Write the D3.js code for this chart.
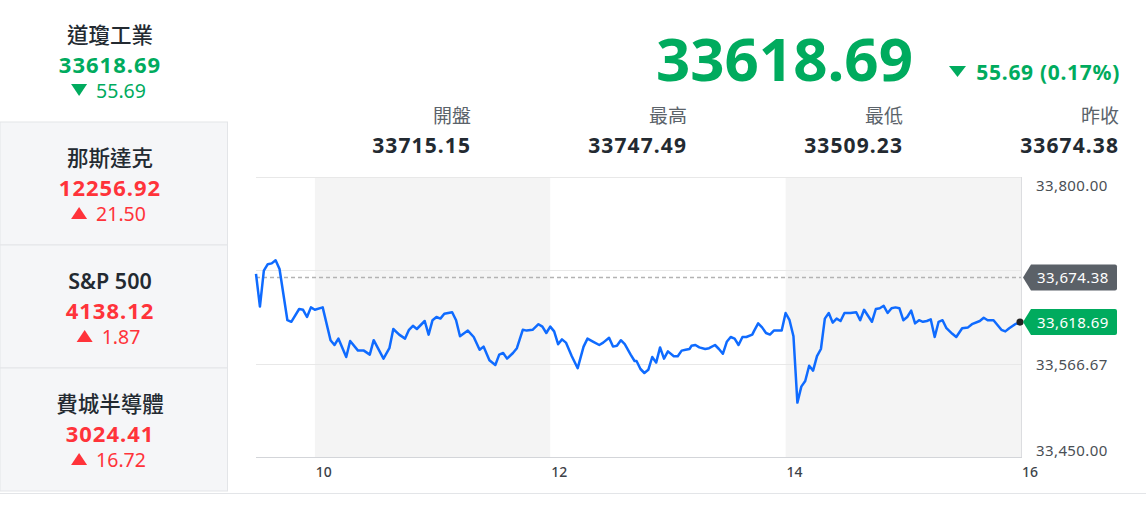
<!DOCTYPE html>
<html>
<head>
<meta charset="utf-8">
<script src="https://cdn.jsdelivr.net/npm/d3@7"></script>
<style>
  html, body { margin: 0; padding: 0; background: #fff; }
  svg { display: block; font-family: 'Noto Sans', 'Noto Sans CJK TC', sans-serif; }
</style>
</head>
<body>
<svg id="chart" width="1146" height="505"></svg>
<script>
// ---------- data ----------
const indexNames   = ["道瓊工業", "那斯達克", "S&P 500", "費城半導體"];
const indexValues  = ["33618.69", "12256.92", "4138.12", "3024.41"];
const indexChanges = ["55.69", "21.50", "1.87", "16.72"];
const indexDir     = ["down", "up", "up", "up"];

const headPrice  = "33618.69";
const headChange = "55.69 (0.17%)";
const statLabels = ["開盤", "最高", "最低", "昨收"];
const statValues = ["33715.15", "33747.49", "33509.23", "33674.38"];

const prevClose = 33674.38;
const lastPrice = 33618.69;

const times = ["09:30","09:32","09:34","09:36","09:38","09:40","09:42","09:46","09:48","09:52","09:54","09:56","09:58",
"10:00","10:04","10:08","10:10","10:12","10:16","10:18","10:22","10:25","10:28","10:30","10:35","10:38","10:40","10:43",
"10:46","10:48","10:50","10:52","10:54","10:56","10:58","11:00","11:02","11:04","11:06","11:08","11:10","11:12","11:14",
"11:18","11:21","11:24","11:26","11:29","11:32","11:34","11:36","11:38","11:41","11:43","11:46","11:48","11:51","11:54",
"11:56","11:58","12:00","12:02","12:04","12:06","12:08","12:11","12:14","12:17","12:19","12:22","12:25","12:27","12:30",
"12:32","12:34","12:36","12:38","12:41","12:43","12:44","12:46","12:48","12:50","12:52","12:54","12:56","12:58","13:00",
"13:03","13:05","13:07","13:09","13:11","13:12","13:14","13:16","13:19","13:21","13:24","13:26","13:28","13:30","13:32",
"13:34","13:36","13:38","13:40","13:43","13:44","13:46","13:48","13:50","13:52","13:54","13:58","14:00","14:02","14:04",
"14:06","14:08","14:10","14:12","14:14","14:16","14:18","14:20","14:22","14:24","14:26","14:28","14:30","14:33","14:36",
"14:38","14:40","14:44","14:46","14:48","14:50","14:52","14:54","14:56","14:58","15:00","15:02","15:04","15:06","15:08",
"15:10","15:12","15:14","15:16","15:18","15:20","15:22","15:25","15:27","15:30","15:33","15:35","15:39","15:41","15:43",
"15:46","15:48","15:50","15:52","15:54","15:57","16:00"];
const prices = [33679,33638,33683,33691,33692,33696,33685,33621,33619,33635,33634,33625,33637,
33634,33637,33596,33590,33598,33575,33595,33583,33583,33578,33596,33573,33586,33610,33603,
33598,33609,33614,33610,33615,33620,33603,33621,33625,33623,33629,33630,33631,33621,33601,
33608,33600,33584,33588,33571,33565,33578,33580,33573,33580,33586,33609,33608,33609,33616,
33613,33605,33613,33607,33591,33597,33593,33576,33561,33588,33598,33594,33590,33593,33599,
33588,33589,33596,33591,33578,33570,33570,33560,33555,33559,33575,33568,33587,33573,33582,
33576,33576,33583,33584,33585,33589,33590,33587,33585,33586,33590,33585,33579,33594,33600,
33598,33590,33600,33600,33603,33608,33617,33612,33605,33603,33608,33608,33630,33621,33601,
33518,33538,33545,33564,33558,33576,33585,33623,33630,33618,33623,33620,33630,33630,33631,
33621,33634,33619,33635,33636,33639,33630,33636,33637,33636,33621,33625,33633,33617,33621,
33619,33620,33622,33600,33619,33621,33611,33604,33600,33611,33612,33616,33620,33624,33621,
33621,33615,33609,33607,33611,33616,33618.69];

const yTicks      = [33800, 33683.33, 33566.67, 33450];
const yTickLabels = ["33,800.00", "", "33,566.67", "33,450.00"];
const xTicks      = [10, 12, 14, 16];
const shadeBands  = [[10, 12], [14, 16]];

// ---------- colors ----------
const GREEN = "#00ab5e", RED = "#ff333a", DARK = "#232a31";

const svg = d3.select("#chart");

// ---------- left sidebar ----------
const blockH = 123;
const side = svg.append("g");
indexNames.forEach((name, i) => {
  const g = side.append("g").attr("transform", `translate(0,${i * blockH})`);
  if (i > 0) {
    g.append("rect").attr("x", 0).attr("y", -1).attr("width", 227.5).attr("height", blockH)
      .attr("fill", "#f5f6f8").attr("stroke", "#e3e5e8").attr("stroke-width", 1);
  }
  const col = indexDir[i] === "down" ? GREEN : RED;
  g.append("text").attr("x", 110).attr("y", 34).attr("text-anchor", "middle")
    .attr("dominant-baseline", "central").attr("font-size", 21.5)
    .attr("font-weight", name === "S&P 500" ? 600 : 500).attr("fill", DARK).text(name);
  g.append("text").attr("x", 110).attr("y", 64).attr("text-anchor", "middle")
    .attr("dominant-baseline", "central").attr("font-size", 22).attr("font-weight", 700)
    .attr("letter-spacing", 1).attr("fill", col).text(indexValues[i]);
  const ct = g.append("text").attr("x", 121).attr("y", 90).attr("text-anchor", "middle")
    .attr("dominant-baseline", "central").attr("font-size", 19.5).attr("fill", col).text(indexChanges[i]);
  const w = ct.node().getComputedTextLength();
  const tx = 121 - w / 2 - 25;
  const tri = indexDir[i] === "down"
    ? `M${tx},${84} L${tx + 16},${84} L${tx + 8},${96} Z`
    : `M${tx},${96} L${tx + 16},${96} L${tx + 8},${84} Z`;
  g.append("path").attr("d", tri).attr("fill", col);
});
svg.append("line").attr("x1", 0).attr("x2", 1146).attr("y1", 493.5).attr("y2", 493.5)
  .attr("stroke", "#e3e5e8");

// ---------- header ----------
svg.append("text").attr("x", 913).attr("y", 58).attr("text-anchor", "end")
  .attr("dominant-baseline", "central").attr("font-size", 60).attr("font-weight", 700)
  .attr("fill", GREEN).text(headPrice);
svg.append("text").attr("x", 1120).attr("y", 72).attr("text-anchor", "end")
  .attr("dominant-baseline", "central").attr("font-size", 21).attr("font-weight", 700)
  .attr("letter-spacing", 0.7).attr("fill", GREEN).text(headChange);
svg.append("path").attr("d", "M949,66 L966,66 L957.5,77 Z").attr("fill", GREEN);

const statX = [471, 687, 903, 1119];
statLabels.forEach((l, i) => {
  svg.append("text").attr("x", statX[i]).attr("y", 116).attr("text-anchor", "end")
    .attr("dominant-baseline", "central").attr("font-size", 19).attr("fill", "#5b636a").text(l);
  svg.append("text").attr("x", statX[i]).attr("y", 145).attr("text-anchor", "end")
    .attr("dominant-baseline", "central").attr("font-size", 21).attr("font-weight", 700)
    .attr("letter-spacing", 1.1).attr("fill", DARK).text(statValues[i]);
});

// ---------- chart ----------
const L = 256, R = 1021, T = 177, B = 457;
const toHour = s => { const [h, m] = s.split(":").map(Number); return h + m / 60; };
const data = times.map((t, i) => ({ t: toHour(t), v: prices[i] }));

const x = d3.scaleLinear().domain([9.5, 16]).range([L, R]);
const y = d3.scaleLinear().domain([33450, 33800]).range([B, T]);

const chart = svg.append("g");
chart.selectAll("rect.band").data(shadeBands).enter().append("rect")
  .attr("x", d => x(d[0])).attr("width", d => x(d[1]) - x(d[0]))
  .attr("y", T).attr("height", B - T).attr("fill", "#f4f4f4");

chart.selectAll("line.grid").data(yTicks).enter().append("line")
  .attr("x1", L).attr("x2", R).attr("y1", d => Math.round(y(d)) + 0.5).attr("y2", d => Math.round(y(d)) + 0.5)
  .attr("stroke", "#e8e8e8").attr("stroke-width", 1);

chart.append("line").attr("x1", R + 0.5).attr("x2", R + 0.5).attr("y1", T).attr("y2", B)
  .attr("stroke", "#dcdde0");
chart.append("line").attr("x1", L).attr("x2", R + 1).attr("y1", B + 0.5).attr("y2", B + 0.5)
  .attr("stroke", "#d3d5d9").attr("stroke-width", 1.2);

// prev close dashed
chart.append("line").attr("x1", L).attr("x2", R).attr("y1", y(prevClose)).attr("y2", y(prevClose))
  .attr("stroke", "#b3b3b3").attr("stroke-width", 1.3).attr("stroke-dasharray", "4,3");

// price line
chart.append("path").datum(data)
  .attr("d", d3.line().x(d => x(d.t)).y(d => y(d.v)))
  .attr("fill", "none").attr("stroke", "#0f6bff").attr("stroke-width", 2.5)
  .attr("stroke-linejoin", "round");
const last = data[data.length - 1];
chart.append("circle").attr("cx", x(last.t) - 1).attr("cy", y(last.v)).attr("r", 3.6).attr("fill", "#222");

// y labels
yTicks.forEach((v, i) => {
  if (!yTickLabels[i]) return;
  const yy = Math.max(T + 8, Math.min(B - 7, y(v)));
  chart.append("text").attr("x", 1036).attr("y", yy).attr("dominant-baseline", "central")
    .attr("font-size", 15).attr("letter-spacing", 0.4).attr("fill", "#4a4f55").text(yTickLabels[i]);
});

// x labels
xTicks.forEach(h => {
  chart.append("text").attr("x", x(h) + 1).attr("y", 471).attr("dominant-baseline", "central")
    .attr("font-size", 14).attr("font-weight", 500).attr("fill", "#3d4248").text(h);
});

// price tags
function tag(v, fill, label) {
  const c = y(v);
  const x0 = R + 2, x1 = R + 10, x2 = 1117, h = 13;
  chart.append("path")
    .attr("d", `M${x0},${c} L${x1},${c - h} L${x2 - 2},${c - h} Q${x2},${c - h} ${x2},${c - h + 2} L${x2},${c + h - 2} Q${x2},${c + h} ${x2 - 2},${c + h} L${x1},${c + h} Z`)
    .attr("fill", fill);
  chart.append("text").attr("x", 1037).attr("y", c).attr("dominant-baseline", "central")
    .attr("font-size", 15).attr("letter-spacing", 0.4).attr("fill", "#fff").text(label);
}
const fmt = d3.format(",.2f");
tag(prevClose, "#5b6168", fmt(prevClose));
tag(lastPrice, GREEN, fmt(lastPrice));
</script>
</body>
</html>
